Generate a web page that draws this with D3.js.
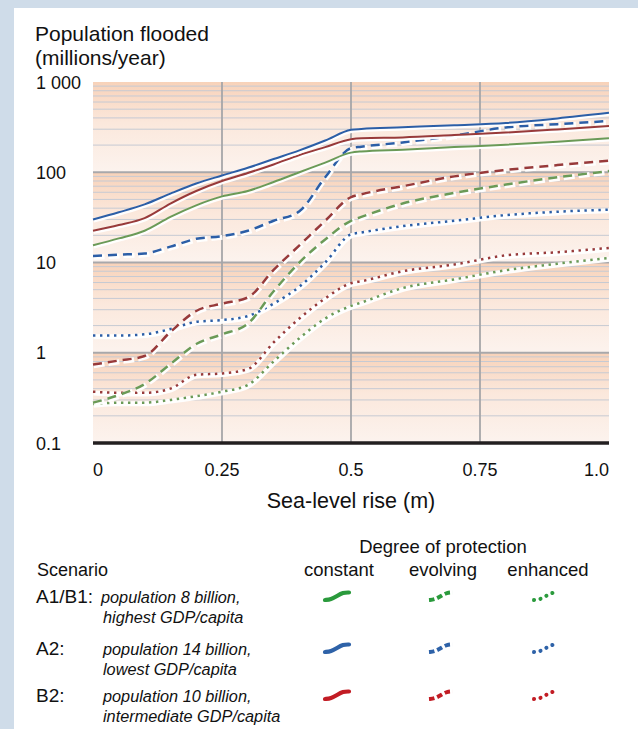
<!DOCTYPE html>
<html>
<head>
<meta charset="utf-8">
<script src="https://cdn.jsdelivr.net/npm/d3@7"></script>
<style>
  body { margin: 0; background: #fff; }
  svg { display: block; font-family: "Liberation Sans", Arial, Helvetica, sans-serif; }
</style>
</head>
<body>
<script>
// sea-level rise (m) sample points, shared by every series
const slr = [0, 0.05, 0.1, 0.15, 0.2, 0.25, 0.3, 0.35, 0.4, 0.45, 0.5, 0.52, 0.6, 0.7, 0.8, 0.9, 1.0];

// population flooded (millions/year)
const a1b1Constant = [15.5, 18.5, 22.5, 32, 43, 54, 62, 78, 100, 128, 165, 170, 178, 190, 202, 218, 238];
const a1b1Evolving = [0.28, 0.34, 0.45, 0.75, 1.25, 1.6, 2.1, 4.8, 10, 18, 29, 32, 45, 59, 73, 88, 103];
const a1b1Enhanced = [0.27, 0.28, 0.28, 0.3, 0.33, 0.37, 0.44, 0.8, 1.45, 2.4, 3.3, 3.6, 5.2, 6.5, 8.2, 9.7, 11.2];

const a2Constant = [30, 36, 44, 58, 75, 92, 112, 140, 175, 225, 295, 302, 315, 332, 352, 395, 455];
const a2Evolving = [11.8, 12.2, 12.6, 15, 18.3, 19.6, 22.5, 29, 37, 88, 185, 192, 214, 255, 314, 341, 370];
const a2Enhanced = [1.55, 1.55, 1.6, 1.83, 2.2, 2.3, 2.55, 3.5, 5.4, 10, 20.5, 21.5, 25.3, 29, 33.5, 36.5, 38.5];

const b2Constant = [22.5, 26, 31, 45, 62, 80, 98, 122, 155, 190, 232, 238, 243, 258, 275, 298, 325];
const b2Evolving = [0.74, 0.82, 0.92, 1.7, 2.9, 3.5, 4.1, 8.3, 15.5, 29, 53, 57, 70, 90, 106, 120, 134];
const b2Enhanced = [0.37, 0.36, 0.36, 0.4, 0.57, 0.59, 0.66, 1.3, 2.4, 4.0, 5.9, 6.2, 8.0, 9.5, 12.0, 13.0, 14.5];

const yTicks = [0.1, 1, 10, 100, 1000];
const yTickLabels = ['0.1', '1', '10', '100', '1 000'];
const xTicks = [0, 0.25, 0.5, 0.75, 1.0];
const xTickLabels = ['0', '0.25', '0.5', '0.75', '1.0'];

const scenarios = ['A1/B1:', 'A2:', 'B2:'];
const scenarioText = [
  ['population 8 billion,', 'highest GDP/capita'],
  ['population 14 billion,', 'lowest GDP/capita'],
  ['population 10 billion,', 'intermediate GDP/capita']
];
const protection = ['constant', 'evolving', 'enhanced'];

const lineColor = { a1b1: '#6b9a57', a2: '#2c5ea6', b2: '#983a3a' };
const legendColor = ['#2a9a3c', '#2e62a8', '#c21c24'];
const dashes = { constant: null, evolving: '9,6', enhanced: '2.4,4.6' };

const series = [
  { v: a1b1Enhanced, c: lineColor.a1b1, p: 'enhanced' },
  { v: b2Enhanced, c: lineColor.b2, p: 'enhanced' },
  { v: a2Enhanced, c: lineColor.a2, p: 'enhanced' },
  { v: a1b1Evolving, c: lineColor.a1b1, p: 'evolving' },
  { v: b2Evolving, c: lineColor.b2, p: 'evolving' },
  { v: a2Evolving, c: lineColor.a2, p: 'evolving' },
  { v: a1b1Constant, c: lineColor.a1b1, p: 'constant' },
  { v: b2Constant, c: lineColor.b2, p: 'constant' },
  { v: a2Constant, c: lineColor.a2, p: 'constant' }
];

const W = 638, H = 729;
const svg = d3.select('body').append('svg')
    .attr('width', W)
    .attr('height', H);

// frame
svg.append('rect').attr('width', W).attr('height', H).attr('fill', '#cfdce9');
svg.append('rect').attr('x', 14).attr('y', 8).attr('width', W - 14).attr('height', H - 8).attr('fill', '#fff');

const x = d3.scaleLinear().domain([0, 1]).range([93, 609]);
const y = d3.scaleLog().domain([0.1, 1000]).range([443, 82]);

// decade bands with a peach gradient
const defs = svg.append('defs');
const grad = defs.append('linearGradient')
    .attr('id', 'band')
    .attr('x1', 0).attr('y1', 0).attr('x2', 0).attr('y2', 1);
grad.append('stop').attr('offset', '0%').attr('stop-color', '#f8d2b9');
grad.append('stop').attr('offset', '45%').attr('stop-color', '#fbe8dc');
grad.append('stop').attr('offset', '100%').attr('stop-color', '#fcf3ee');

const decades = [1, 10, 100, 1000];
svg.selectAll('rect.band')
    .data(decades)
    .enter()
  .append('rect')
    .attr('class', 'band')
    .attr('x', x(0))
    .attr('width', x(1) - x(0))
    .attr('y', d => y(d))
    .attr('height', d => y(d / 10) - y(d))
    .attr('fill', 'url(#band)');

// minor grid
const minor = [];
[0.1, 1, 10, 100].forEach(d => { for (let k = 2; k <= 9; k++) minor.push(d * k); });
svg.selectAll('line.minor')
    .data(minor)
    .enter()
  .append('line')
    .attr('x1', x(0)).attr('x2', x(1))
    .attr('y1', d => y(d)).attr('y2', d => y(d))
    .attr('stroke', '#c6cad3')
    .attr('stroke-width', 1);

// major grid
svg.selectAll('line.major')
    .data([1, 10, 100])
    .enter()
  .append('line')
    .attr('x1', x(0)).attr('x2', x(1))
    .attr('y1', d => y(d)).attr('y2', d => y(d))
    .attr('stroke', '#a8a8ab')
    .attr('stroke-width', 1.8);

svg.selectAll('line.vgrid')
    .data([0.25, 0.5, 0.75])
    .enter()
  .append('line')
    .attr('x1', d => x(d)).attr('x2', d => x(d))
    .attr('y1', y(1000)).attr('y2', y(0.1))
    .attr('stroke', '#a6a6a9')
    .attr('stroke-width', 1.8);

// lines
const line = d3.line()
    .x((d, i) => x(slr[i]))
    .y(d => y(d))
    .curve(d3.curveMonotoneX);

series.forEach(s => {
  svg.append('path')
      .attr('d', line(s.v))
      .attr('transform', 'translate(0.6,1.2)')
      .attr('fill', 'none')
      .attr('stroke', '#fff')
      .attr('stroke-opacity', 0.95)
      .attr('stroke-width', s.p === 'constant' ? 4 : 5)
      .attr('stroke-dasharray', s.p === 'evolving' ? '11,4' : null);
  svg.append('path')
      .attr('d', line(s.v))
      .attr('fill', 'none')
      .attr('stroke', s.c)
      .attr('stroke-width', s.p === 'constant' ? 2 : 2.5)
      .attr('stroke-dasharray', dashes[s.p]);
});

// bottom axis line
svg.append('line')
    .attr('x1', x(0)).attr('x2', x(1))
    .attr('y1', y(0.1)).attr('y2', y(0.1))
    .attr('stroke', '#231f20')
    .attr('stroke-width', 3.5);

// tick labels
svg.selectAll('text.ytick')
    .data(yTicks)
    .enter()
  .append('text')
    .attr('x', 36)
    .attr('y', d => y(d) + 6.5)
    .attr('font-size', 18)
    .attr('fill', '#111')
    .text((d, i) => yTickLabels[i]);

svg.selectAll('text.xtick')
    .data(xTicks)
    .enter()
  .append('text')
    .attr('x', d => x(d))
    .attr('y', 476)
    .attr('font-size', 18)
    .attr('fill', '#111')
    .attr('text-anchor', (d, i) => i === 0 ? 'start' : (i === xTicks.length - 1 ? 'end' : 'middle'))
    .text((d, i) => xTickLabels[i]);

svg.append('text')
    .attr('x', x(0.5))
    .attr('y', 508)
    .attr('font-size', 21.5)
    .attr('text-anchor', 'middle')
    .attr('fill', '#111')
    .text('Sea-level rise (m)');

svg.append('text')
    .attr('x', 35).attr('y', 41)
    .attr('font-size', 21)
    .attr('fill', '#111')
    .text('Population flooded');
svg.append('text')
    .attr('x', 35).attr('y', 65)
    .attr('font-size', 21)
    .attr('fill', '#111')
    .text('(millions/year)');

// legend
const colX = [339, 443, 548];
svg.append('text')
    .attr('x', 443).attr('y', 553)
    .attr('font-size', 18.5)
    .attr('text-anchor', 'middle')
    .attr('fill', '#111')
    .text('Degree of protection');
svg.append('text')
    .attr('x', 37).attr('y', 576)
    .attr('font-size', 18)
    .attr('fill', '#111')
    .text('Scenario');
svg.selectAll('text.prot')
    .data(protection)
    .enter()
  .append('text')
    .attr('x', (d, i) => colX[i])
    .attr('y', 576)
    .attr('font-size', 18.5)
    .attr('text-anchor', 'middle')
    .attr('fill', '#111')
    .text(d => d);

const rowY = [603, 655, 702];
scenarios.forEach((s, r) => {
  svg.append('text')
      .attr('x', 36).attr('y', rowY[r])
      .attr('font-size', 19)
      .attr('fill', '#111')
      .text(s);
  scenarioText[r].forEach((t, k) => {
    svg.append('text')
        .attr('x', k === 0 && r === 0 ? 101 : 103)
        .attr('y', rowY[r] + k * 20)
        .attr('font-size', 16.3)
        .attr('font-style', 'italic')
        .attr('fill', '#111')
        .text(t);
  });
  // small wave icons
  const wave = [[-12, 4], [-6, 3.5], [0, 0], [6, -3.5], [12, -3.5]];
  const icon = d3.line().x(d => d[0]).y(d => d[1]).curve(d3.curveBasis);
  protection.forEach((p, c) => {
    svg.append('path')
        .attr('d', icon(wave))
        .attr('transform', `translate(${colX[c] - 2},${rowY[r] - 7})`)
        .attr('fill', 'none')
        .attr('stroke', legendColor[r])
        .attr('stroke-width', p === 'constant' ? 4.2 : 4)
        .attr('stroke-linecap', p === 'evolving' ? 'butt' : 'round')
        .attr('stroke-dasharray', p === 'constant' ? null : (p === 'evolving' ? '5.5,3' : '0.1,6.5'));
  });
});
</script>
</body>
</html>
